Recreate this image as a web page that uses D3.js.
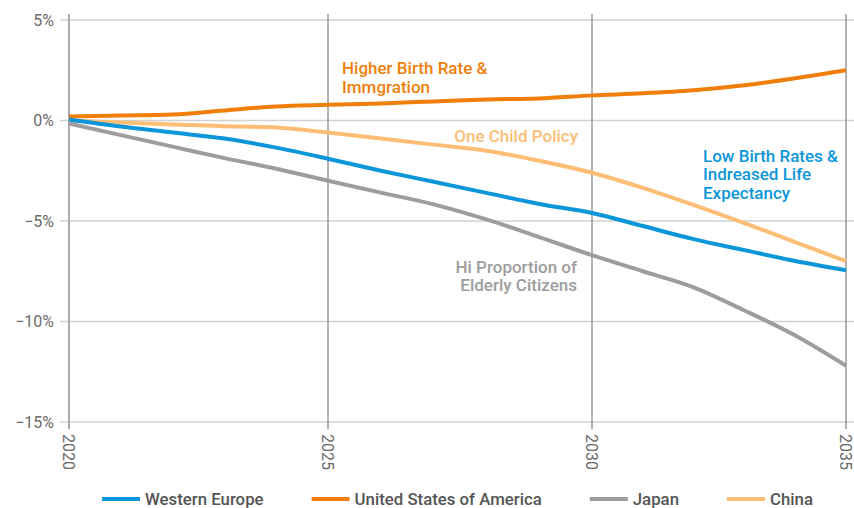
<!DOCTYPE html>
<html>
<head>
<meta charset="utf-8">
<script src="https://cdn.jsdelivr.net/npm/d3@7/dist/d3.min.js"></script>
<style>
  html, body { margin: 0; padding: 0; background: #fff; }
  svg { display: block; font-family: Roboto, "Noto Sans", sans-serif; }
</style>
</head>
<body>
<svg id="chart" width="854" height="508"></svg>
<script>
const years = [2020,2021,2022,2023,2024,2025,2026,2027,2028,2029,2030,2031,2032,2033,2034,2035];
const westernEurope = [0.05,-0.3,-0.6,-0.9,-1.35,-1.9,-2.5,-3.05,-3.6,-4.15,-4.6,-5.25,-5.9,-6.45,-6.99,-7.45];
const usa = [0.2,0.25,0.3,0.5,0.7,0.78,0.85,0.95,1.05,1.1,1.25,1.35,1.5,1.75,2.1,2.5];
const japan = [-0.15,-0.73,-1.3,-1.87,-2.4,-3.0,-3.59,-4.17,-4.92,-5.8,-6.7,-7.5,-8.3,-9.45,-10.7,-12.2];
const china = [0,-0.1,-0.2,-0.28,-0.35,-0.6,-0.9,-1.2,-1.5,-2.0,-2.6,-3.35,-4.2,-5.1,-6.05,-7.0];
const seriesNames = ["Western Europe","United States of America","Japan","China"];
const seriesColors = ["#0a96d8","#ef7f0a","#9d9d9d","#fdbd74"];
const xTicks = [2020,2025,2030,2035];
const yTicks = [5,0,-5,-10,-15];

const seriesData = [westernEurope, usa, japan, china];

const svg = d3.select("#chart");
const x = d3.scaleLinear().domain([2020,2025,2030,2035]).range([69,328,592,846]);
const y = d3.scaleLinear().domain([-15,5]).range([422,20]);

const fmt = v => (v < 0 ? "\u2212" + Math.abs(v) : String(v)) + "%";

// horizontal gridlines
svg.append("g").selectAll("line").data(yTicks).join("line")
  .attr("x1", 60).attr("x2", 854)
  .attr("y1", d => y(d)).attr("y2", d => y(d))
  .attr("stroke", "#d2d2d2").attr("stroke-width", 1.5);

// vertical gridlines
svg.append("g").selectAll("line").data(xTicks.slice(1)).join("line")
  .attr("x1", d => x(d)).attr("x2", d => x(d))
  .attr("y1", 14).attr("y2", 429)
  .attr("stroke", "#7f7f7f").attr("stroke-width", 1.2);

// y axis line
svg.append("line").attr("x1", x(2020)).attr("x2", x(2020)).attr("y1", 14).attr("y2", 429)
  .attr("stroke", "#aaaaaa").attr("stroke-width", 2);

// y tick labels
svg.append("g").selectAll("text").data(yTicks).join("text")
  .attr("x", 54).attr("y", d => y(d)).attr("dy", "0.36em")
  .attr("text-anchor", "end").attr("fill", "#6b6b6b").attr("font-size", 16)
  .text(fmt);

// x tick labels (rotated)
svg.append("g").selectAll("text").data(xTicks).join("text")
  .attr("transform", d => `translate(${x(d)},${434}) rotate(90)`)
  .attr("dy", "0.35em").attr("text-anchor", "start")
  .attr("fill", "#6b6b6b").attr("font-size", 16)
  .text(d => d);

// lines
const line = d3.line().x((d, i) => x(years[i])).y(d => y(d)).curve(d3.curveMonotoneX);
const drawOrder = [3, 2, 1, 0];
svg.append("g").selectAll("path").data(drawOrder).join("path")
  .attr("d", i => line(seriesData[i]))
  .attr("fill", "none").attr("stroke", i => seriesColors[i])
  .attr("stroke-width", 4).attr("stroke-linejoin", "round");

// annotations
function annot(lines, xPos, yPos, color, anchor) {
  const t = svg.append("text").attr("fill", color).attr("font-size", 17)
    .attr("font-weight", 500).attr("text-anchor", anchor);
  lines.forEach((s, i) => t.append("tspan").attr("x", xPos).attr("y", yPos + i * 18.7).text(s));
}
annot(["Higher Birth Rate &", "Immgration"], 342, 74, seriesColors[1], "start");
annot(["One Child Policy"], 578, 141.5, seriesColors[3], "end");
annot(["Low Birth Rates &", "Indreased Life", "Expectancy"], 703, 161.5, seriesColors[0], "start");
annot(["Hi Proportion of", "Elderly Citizens"], 577, 272.5, seriesColors[2], "end");

// legend
const legend = svg.append("g");
let cx = 0;
seriesNames.forEach((name, i) => {
  const g = legend.append("g");
  g.append("line").attr("x1", 0).attr("x2", 38).attr("y1", 0).attr("y2", 0)
    .attr("stroke", seriesColors[i]).attr("stroke-width", 4);
  const t = g.append("text").attr("x", 43).attr("y", 0).attr("dy", "0.35em")
    .attr("fill", "#555").attr("font-size", 16.8).attr("font-weight", 500).text(name);
  const w = 43 + t.node().getComputedTextLength();
  g.attr("transform", `translate(${cx},0)`);
  cx += w + 48;
});
const totalW = cx - 48;
const center = (x(2020) + x(2035)) / 2;
legend.attr("transform", `translate(${center - totalW / 2},499)`);
</script>
</body>
</html>
